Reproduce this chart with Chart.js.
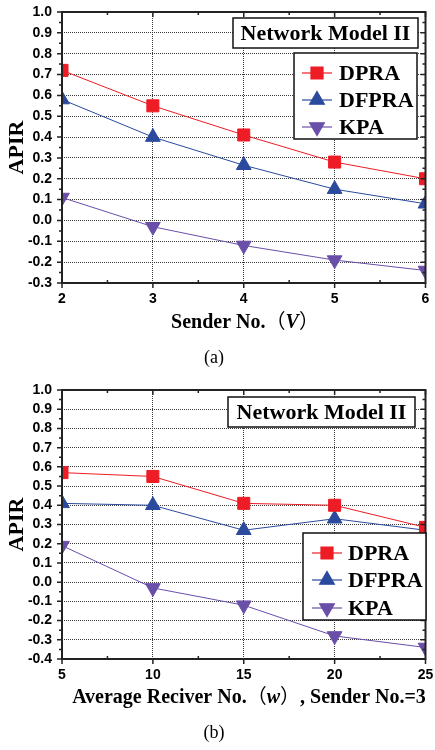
<!DOCTYPE html>
<html>
<head>
<meta charset="utf-8">
<script src="https://cdn.jsdelivr.net/npm/chart.js@4.4.1/dist/chart.umd.min.js"></script>
<style>
    html, body { margin: 0; padding: 0; background: #fff; }
    canvas { display: block; }
</style>
</head>
<body>
<canvas id="chartA" width="435" height="375"></canvas>
<canvas id="chartB" width="435" height="375"></canvas>
<script>
// ---- data: (a) sender number ----
const senderNo = [2, 3, 4, 5, 6];
const dpraA = [0.72, 0.55, 0.41, 0.28, 0.20];
const dfpraA = [0.58, 0.40, 0.265, 0.15, 0.08];
const kpaA = [0.11, -0.03, -0.12, -0.19, -0.24];
const yRangeA = [-0.3, 1.0];

// ---- data: (b) average receiver number ----
const receiverNo = [5, 10, 15, 20, 25];
const dpraB = [0.57, 0.55, 0.41, 0.40, 0.285];
const dfpraB = [0.41, 0.40, 0.27, 0.33, 0.27];
const kpaB = [0.19, -0.03, -0.12, -0.28, -0.34];
const yRangeB = [-0.4, 1.0];

const seriesNames = ["DPRA", "DFPRA", "KPA"];
const boxTitle = "Network Model II";

const SERIF = '"Liberation Serif", "Times New Roman", serif';
const SANS = '"Liberation Sans", Arial, sans-serif';
const CJK = '"Noto Sans CJK SC", sans-serif';

const styles = [
    { color: "#ee1c24", pointStyle: "rect", rotation: 0 },
    { color: "#2b4a9e", pointStyle: "triangle", rotation: 0 },
    { color: "#6a4fa8", pointStyle: "triangle", rotation: 180 }
];

function toPoints(xs, ys) {
    return xs.map((x, i) => ({ x, y: ys[i] }));
}

// frame, minor ticks, x title, caption, title box and legend
const decorPlugin = {
    id: "decor",
    afterDraw(chart, args, o) {
        const { ctx, chartArea: a } = chart;
        const x = chart.scales.x, y = chart.scales.y;
        ctx.save();

        // tick marks
        ctx.strokeStyle = "#222";
        ctx.lineWidth = 1.5;
        ctx.beginPath();
        const ny = Math.round((y.max - y.min) / 0.05);
        for (let k = 0; k <= ny; k++) {
            const py = y.getPixelForValue(y.min + k * 0.05);
            const len = k % 2 ? 3 : 5;
            ctx.moveTo(a.left - len, py); ctx.lineTo(a.left, py);
            ctx.moveTo(a.right, py); ctx.lineTo(a.right - len, py);
        }
        const half = o.xStep / 2;
        const nx = Math.round((x.max - x.min) / half);
        for (let k = 0; k <= nx; k++) {
            const px = x.getPixelForValue(x.min + k * half);
            if (k % 2) {
                ctx.moveTo(px, a.bottom); ctx.lineTo(px, a.bottom - 3);
                ctx.moveTo(px, a.top); ctx.lineTo(px, a.top + 3);
            } else {
                ctx.moveTo(px, a.bottom); ctx.lineTo(px, a.bottom + 5);
                ctx.moveTo(px, a.top); ctx.lineTo(px, a.top + 5);
            }
        }
        ctx.stroke();

        // frame
        ctx.lineWidth = 2;
        ctx.strokeRect(a.left, a.top, a.right - a.left, a.bottom - a.top);

        // x axis title with mixed fonts
        ctx.fillStyle = "#000";
        ctx.textBaseline = "alphabetic";
        ctx.textAlign = "left";
        const fonts = {
            n: "bold 20px " + SERIF,
            i: "italic bold 20px " + SERIF,
            c: "20px " + CJK
        };
        let total = 0;
        o.xTitle.forEach(s => { ctx.font = fonts[s.f]; total += ctx.measureText(s.t).width; });
        let tx = o.xTitleX - total / 2;
        o.xTitle.forEach(s => {
            ctx.font = fonts[s.f];
            ctx.fillText(s.t, tx, o.xTitleY);
            tx += ctx.measureText(s.t).width;
        });

        // caption
        ctx.font = "18px " + SERIF;
        ctx.textAlign = "center";
        ctx.textBaseline = "middle";
        ctx.fillText(o.caption, 214, 358);

        // title box
        const b = o.titleBox;
        ctx.fillStyle = "#fff";
        ctx.fillRect(b.x0, b.y0, b.x1 - b.x0, b.y1 - b.y0);
        ctx.lineWidth = 1.5;
        ctx.strokeStyle = "#111";
        ctx.strokeRect(b.x0, b.y0, b.x1 - b.x0, b.y1 - b.y0);
        ctx.fillStyle = "#000";
        ctx.font = "bold 22px " + SERIF;
        ctx.fillText(boxTitle, (b.x0 + b.x1) / 2, (b.y0 + b.y1) / 2 + 1);

        // legend
        const l = o.legend;
        ctx.fillStyle = "#fff";
        ctx.fillRect(l.x0, l.y0, l.x1 - l.x0, l.y1 - l.y0);
        ctx.strokeStyle = "#111";
        ctx.strokeRect(l.x0, l.y0, l.x1 - l.x0, l.y1 - l.y0);
        chart.data.datasets.forEach((ds, i) => {
            const cy = l.rows[i];
            ctx.strokeStyle = ds.borderColor;
            ctx.lineWidth = 1.2;
            ctx.beginPath();
            ctx.moveTo(l.lineX - 15, cy);
            ctx.lineTo(l.lineX + 15, cy);
            ctx.stroke();
            ctx.fillStyle = ds.pointBackgroundColor;
            Chart.helpers.drawPoint(ctx, {
                pointStyle: ds.pointStyle,
                rotation: ds.pointRotation,
                radius: ds.pointRadius,
                borderWidth: 1
            }, l.lineX, cy);
            ctx.fillStyle = "#000";
            ctx.textAlign = "left";
            ctx.font = "bold 22px " + SERIF;
            ctx.fillText(ds.label, l.textX, cy + 1);
        });
        ctx.restore();
    }
};

function makeChart(id, c) {
    const datasets = c.series.map((vals, i) => ({
        label: seriesNames[i],
        data: toPoints(c.xs, vals),
        borderColor: styles[i].color,
        backgroundColor: styles[i].color,
        pointBackgroundColor: styles[i].color,
        pointBorderColor: styles[i].color,
        pointStyle: styles[i].pointStyle,
        pointRotation: styles[i].rotation,
        pointRadius: 8.5,
        borderWidth: 1,
        tension: 0
    }));

    return new Chart(document.getElementById(id), {
        type: "line",
        data: { datasets },
        plugins: [decorPlugin],
        options: {
            responsive: false,
            animation: false,
            layout: { padding: { top: c.area.top, right: 435 - c.area.right, left: 0, bottom: 0 } },
            plugins: {
                legend: { display: false },
                tooltip: { enabled: false },
                decor: {
                    xStep: c.xStep,
                    xTitle: c.xTitle,
                    xTitleX: c.xTitleX,
                    xTitleY: 328,
                    caption: c.caption,
                    titleBox: c.titleBox,
                    legend: c.legend
                }
            },
            scales: {
                x: {
                    type: "linear",
                    min: c.xs[0],
                    max: c.xs[c.xs.length - 1],
                    ticks: {
                        stepSize: c.xStep,
                        autoSkip: false,
                        padding: 8,
                        color: "#000",
                        font: { family: SANS, size: 14, weight: "bold" }
                    },
                    grid: { color: "#3a3a3a", lineWidth: 1, drawTicks: false },
                    border: { display: false, dash: [1, 1] },
                    afterFit(s) {
                        s.height = 375 - c.area.bottom;
                        s.paddingLeft = 0;
                        s.paddingRight = 0;
                    }
                },
                y: {
                    min: c.yRange[0],
                    max: c.yRange[1],
                    ticks: {
                        stepSize: 0.1,
                        autoSkip: false,
                        padding: 10,
                        color: "#000",
                        font: { family: SANS, size: 14, weight: "bold" },
                        callback: v => (Math.abs(v) < 1e-9 ? 0 : v).toFixed(1)
                    },
                    grid: { color: "#3a3a3a", lineWidth: 1, drawTicks: false },
                    border: { display: false, dash: [1, 1] },
                    title: {
                        display: true,
                        text: "APIR",
                        color: "#000",
                        font: { family: SERIF, size: 22, weight: "bold" },
                        padding: { top: 4, bottom: 0 }
                    },
                    afterFit(s) {
                        s.width = c.area.left;
                        s.paddingTop = 0;
                        s.paddingBottom = 0;
                    }
                }
            }
        }
    });
}

makeChart("chartA", {
    xs: senderNo,
    series: [dpraA, dfpraA, kpaA],
    yRange: yRangeA,
    xStep: 1,
    area: { left: 62, top: 12, right: 434, bottom: 283 },
    xTitle: [{ t: "Sender No.", f: "n" }, { t: "（", f: "c" }, { t: "V", f: "i" }, { t: "）", f: "c" }],
    xTitleX: 245,
    caption: "(a)",
    titleBox: { x0: 233, y0: 18, x1: 418, y1: 48 },
    legend: { x0: 294, y0: 53, x1: 417, y1: 139, rows: [73, 100, 127], lineX: 317, textX: 339 }
});

makeChart("chartB", {
    xs: receiverNo,
    series: [dpraB, dfpraB, kpaB],
    yRange: yRangeB,
    xStep: 5,
    area: { left: 62, top: 15, right: 430, bottom: 284 },
    xTitle: [
        { t: "Average Reciver No.", f: "n" }, { t: "（", f: "c" }, { t: "w", f: "i" },
        { t: "）", f: "c" }, { t: ", Sender No.=3", f: "n" }
    ],
    xTitleX: 249,
    caption: "(b)",
    titleBox: { x0: 228, y0: 22, x1: 415, y1: 52 },
    legend: { x0: 303, y0: 158, x1: 426, y1: 245, rows: [178, 205, 233], lineX: 327, textX: 348 }
});
</script>
</body>
</html>
